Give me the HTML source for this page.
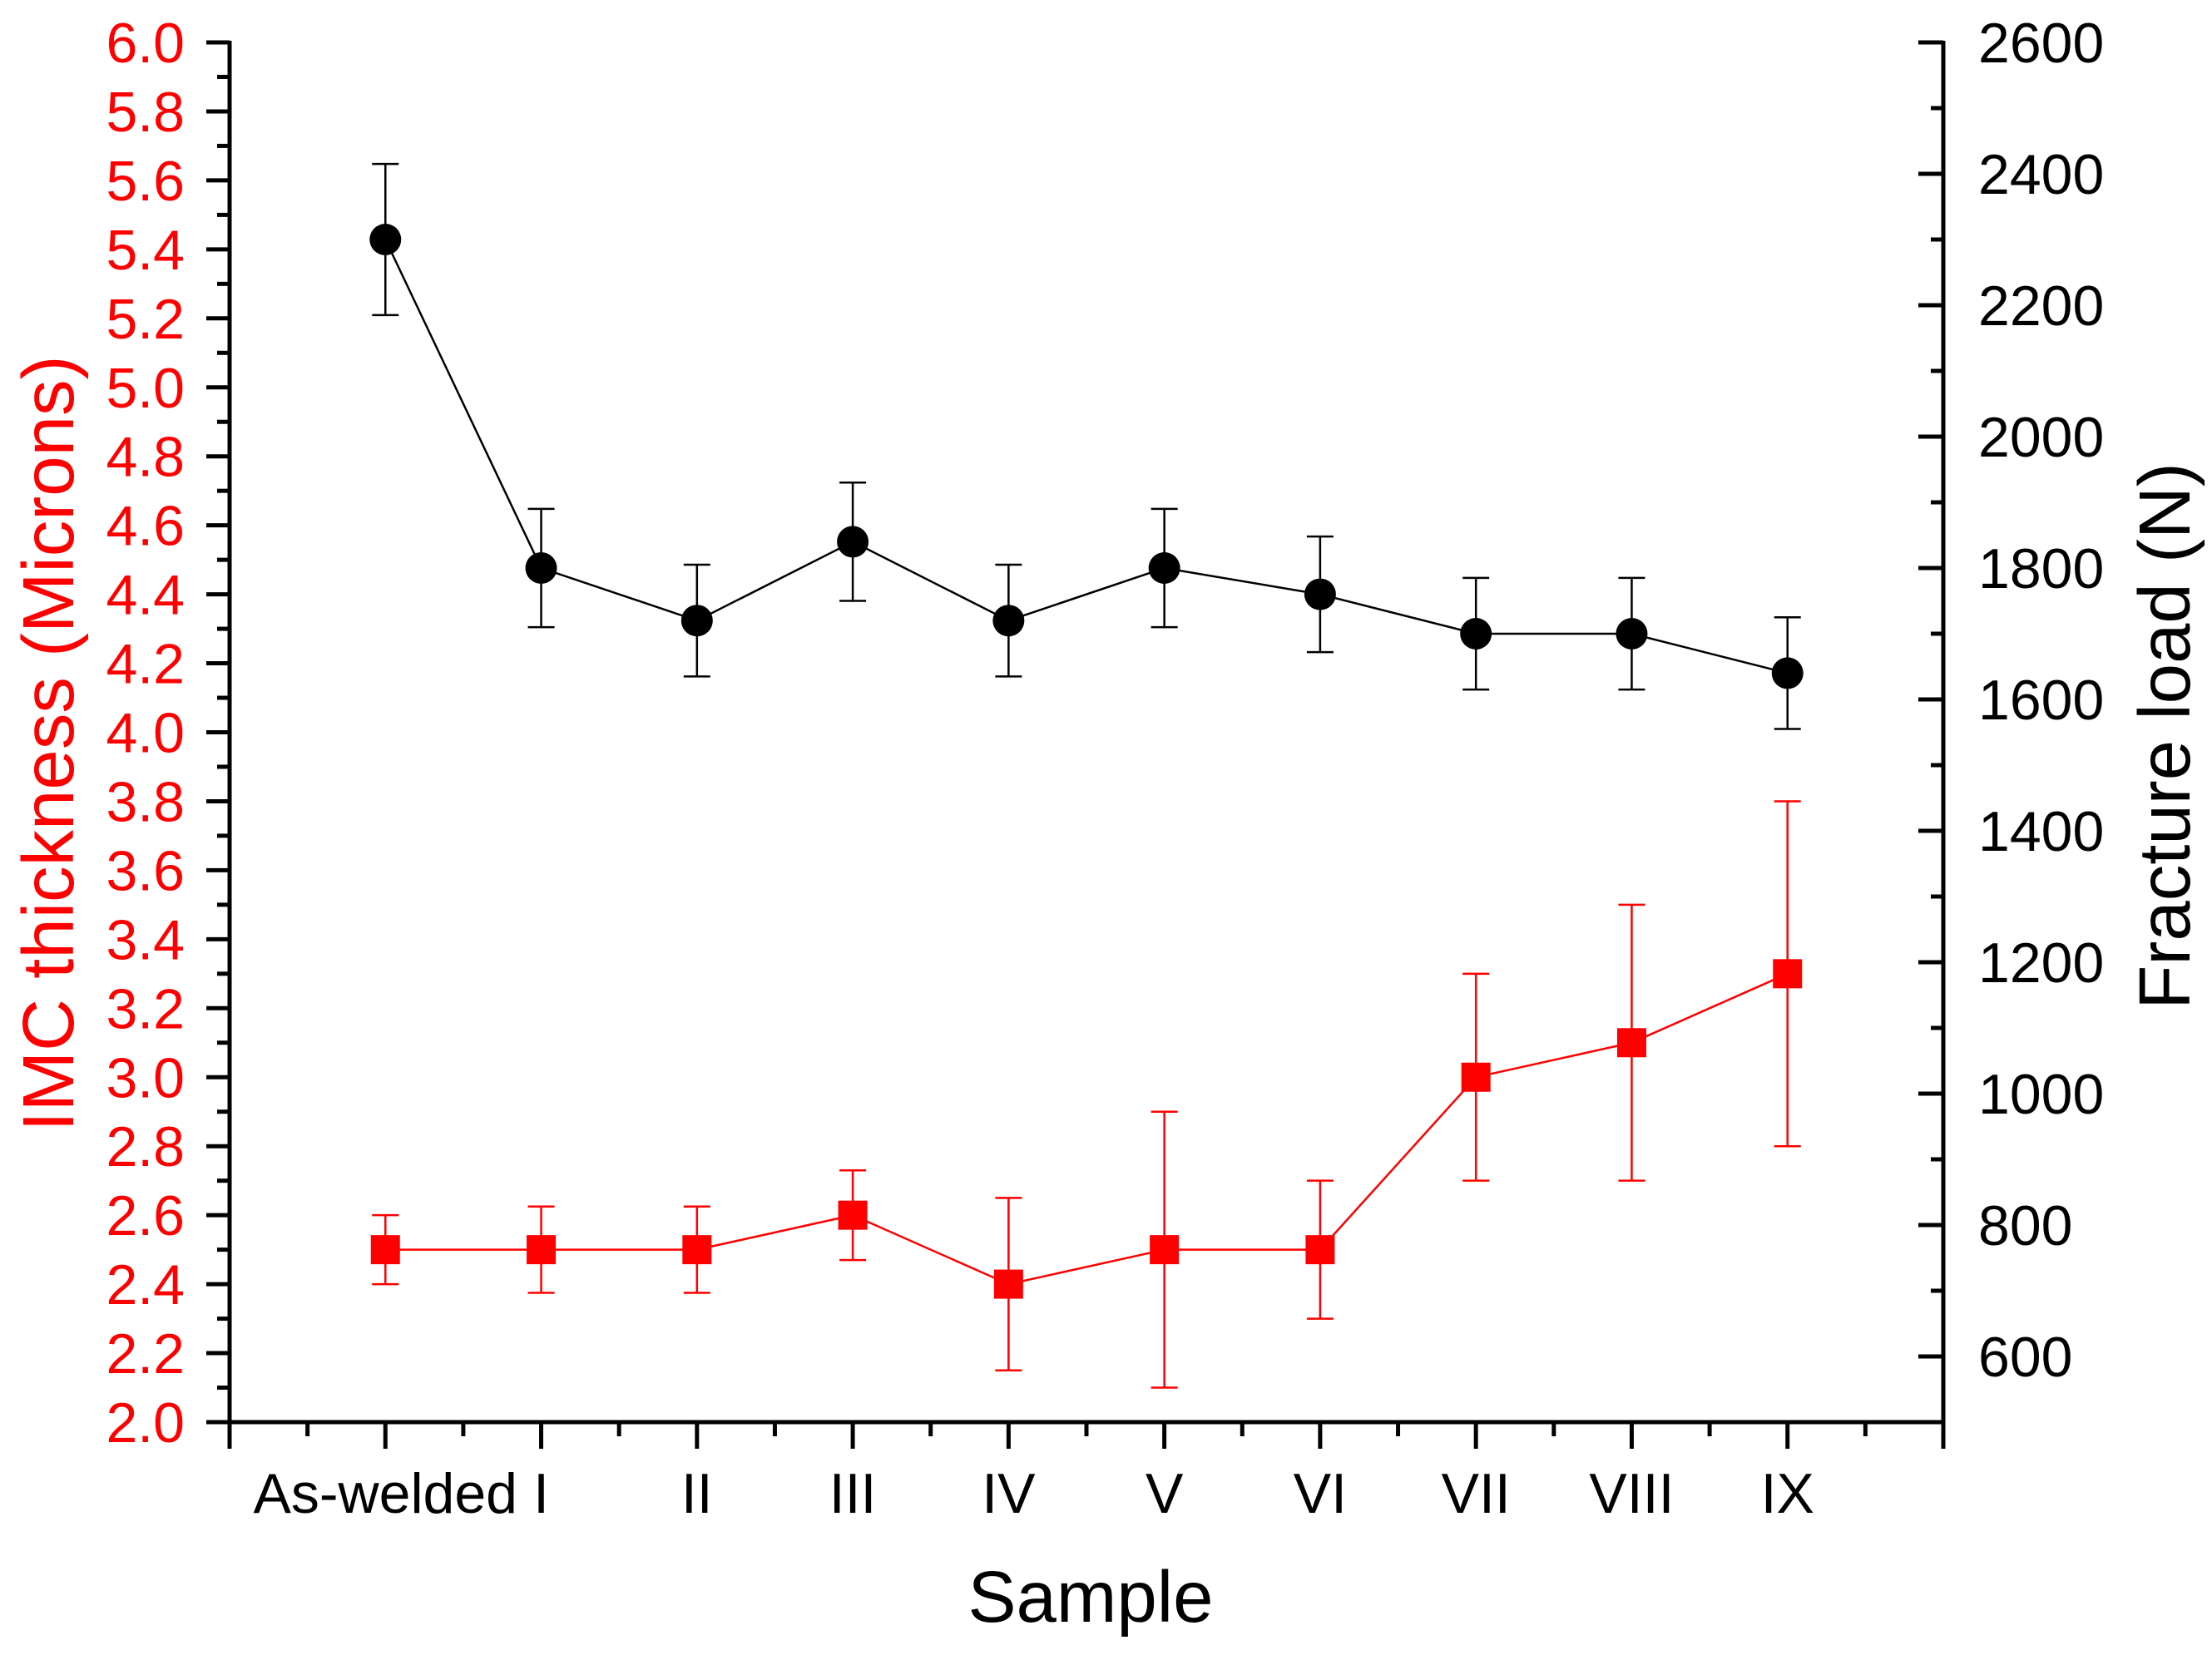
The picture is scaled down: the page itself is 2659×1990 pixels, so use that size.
<!DOCTYPE html>
<html><head><meta charset="utf-8"><style>
html,body{margin:0;padding:0;background:#fff;}
svg{display:block;font-family:"Liberation Sans",Arial,sans-serif;}
</style></head><body>
<svg id="chart" width="2659" height="1990" viewBox="0 0 2659 1990" xmlns="http://www.w3.org/2000/svg"></svg>
<script>
const categories = ["As-welded","I","II","III","IV","V","VI","VII","VIII","IX"];
const loadValues = [2300,1800,1720,1840,1720,1800,1760,1700,1700,1640];
const loadErrors = [115,90,85,90,85,90,88,85,85,85];
const imcValues = [2.5,2.5,2.5,2.6,2.4,2.5,2.5,3.0,3.1,3.3];
const imcErrors = [0.1,0.125,0.125,0.13,0.25,0.4,0.2,0.3,0.4,0.5];
const leftTicks = ["2.0","2.2","2.4","2.6","2.8","3.0","3.2","3.4","3.6","3.8","4.0","4.2","4.4","4.6","4.8","5.0","5.2","5.4","5.6","5.8","6.0"];
const rightTicks = ["600","800","1000","1200","1400","1600","1800","2000","2200","2400","2600"];

const svg = document.getElementById('chart');
const NS = 'http://www.w3.org/2000/svg';
const L = 276, R = 2336, T = 51, B = 1710;
const xs = i => L + (i + 1) * (R - L) / 11;
const yL = v => B - (v - 2) / 4 * (B - T);
const yR = v => B - (v - 500) / 2100 * (B - T);
function mk(tag, attrs, parent) {
  const e = document.createElementNS(NS, tag);
  for (const k in attrs) e.setAttribute(k, attrs[k]);
  (parent || svg).appendChild(e);
  return e;
}

// axes
const axes = mk('g', {});


mk('line', {x1: L, y1: T - 2, x2: L, y2: B + 2, stroke: '#000', 'stroke-width': 5}, axes);
mk('line', {x1: R, y1: T - 2, x2: R, y2: B + 2, stroke: '#000', 'stroke-width': 5}, axes);
mk('line', {x1: L - 2, y1: B, x2: R + 2, y2: B, stroke: '#000', 'stroke-width': 5}, axes);

// left ticks
for (let i = 0; i < leftTicks.length; i++) {
  const v = parseFloat(leftTicks[i]);
  const y = yL(v);
  mk('line', {x1: L - 28, y1: y, x2: L, y2: y, stroke: '#000', 'stroke-width': 5}, axes);
  if (i < leftTicks.length - 1) {
    const ym = yL(v + 0.1);
    mk('line', {x1: L - 15, y1: ym, x2: L, y2: ym, stroke: '#000', 'stroke-width': 5}, axes);
  }
  const t = mk('text', {x: 222, y: y + 24, 'text-anchor': 'end', 'font-size': 68, fill: '#ff0000'});
  t.textContent = leftTicks[i];
  
  
}
// right ticks
for (let i = 0; i < rightTicks.length; i++) {
  const v = parseFloat(rightTicks[i]);
  const y = yR(v);
  mk('line', {x1: R - 30, y1: y, x2: R, y2: y, stroke: '#000', 'stroke-width': 5}, axes);
  const ym = yR(v - 100);
  mk('line', {x1: R - 15, y1: ym, x2: R, y2: ym, stroke: '#000', 'stroke-width': 5}, axes);
  const t = mk('text', {x: 2378, y: y + 24, 'text-anchor': 'start', 'font-size': 68, fill: '#000'});
  t.textContent = rightTicks[i];
  
  
}
// bottom ticks
for (let i = -1; i <= 10; i++) {
  const x = xs(i);
  mk('line', {x1: x, y1: B, x2: x, y2: B + 32, stroke: '#000', 'stroke-width': 5}, axes);
  if (i < 10) {
    const xm = xs(i + 0.5);
    mk('line', {x1: xm, y1: B, x2: xm, y2: B + 17, stroke: '#000', 'stroke-width': 5}, axes);
  }
}
categories.forEach((c, i) => {
  const t = mk('text', {x: xs(i), y: 1819, 'text-anchor': 'middle', 'font-size': 68, fill: '#000'});
  t.textContent = c;
  
  
});

// titles
const xt = mk('text', {x: 1311, y: 1950, 'text-anchor': 'middle', 'font-size': 87, fill: '#000'});
xt.textContent = 'Sample';


const ytl = mk('text', {x: 0, y: 0, 'text-anchor': 'middle', 'font-size': 87, fill: '#ff0000', transform: 'translate(88,894) rotate(-90)'});
ytl.textContent = 'IMC thickness (Microns)';


const ytr = mk('text', {x: 0, y: 0, 'text-anchor': 'middle', 'font-size': 87, fill: '#000', transform: 'translate(2632,885) rotate(-90)'});
ytr.textContent = 'Fracture load (N)';



// series
function series(vals, errs, yf, color, shape, name) {
  const g = mk('g', {});
  
  
  const pts = vals.map((v, i) => xs(i) + ',' + yf(v)).join(' ');
  const pl = mk('polyline', {points: pts, fill: 'none', stroke: color, 'stroke-width': 2.5}, g);
  
  
  vals.forEach((v, i) => {
    const x = xs(i), y1 = yf(v + errs[i]), y2 = yf(v - errs[i]);
    const eb = mk('path', {d: `M${x},${y1}V${y2}M${x-16},${y1}H${x+16}M${x-16},${y2}H${x+16}`, stroke: color, 'stroke-width': 2.5, fill: 'none'}, g);
    
    
    let m;
    if (shape === 'circle') m = mk('circle', {cx: x, cy: yf(v), r: 19, fill: color}, g);
    else m = mk('rect', {x: x - 17.5, y: yf(v) - 17.5, width: 35, height: 35, fill: color}, g);
    
    
  });
}
series(loadValues, loadErrors, yR, '#000', 'circle', 'fracture-load');
series(imcValues, imcErrors, yL, '#ff0000', 'square', 'imc-thickness');
</script>
</body></html>
